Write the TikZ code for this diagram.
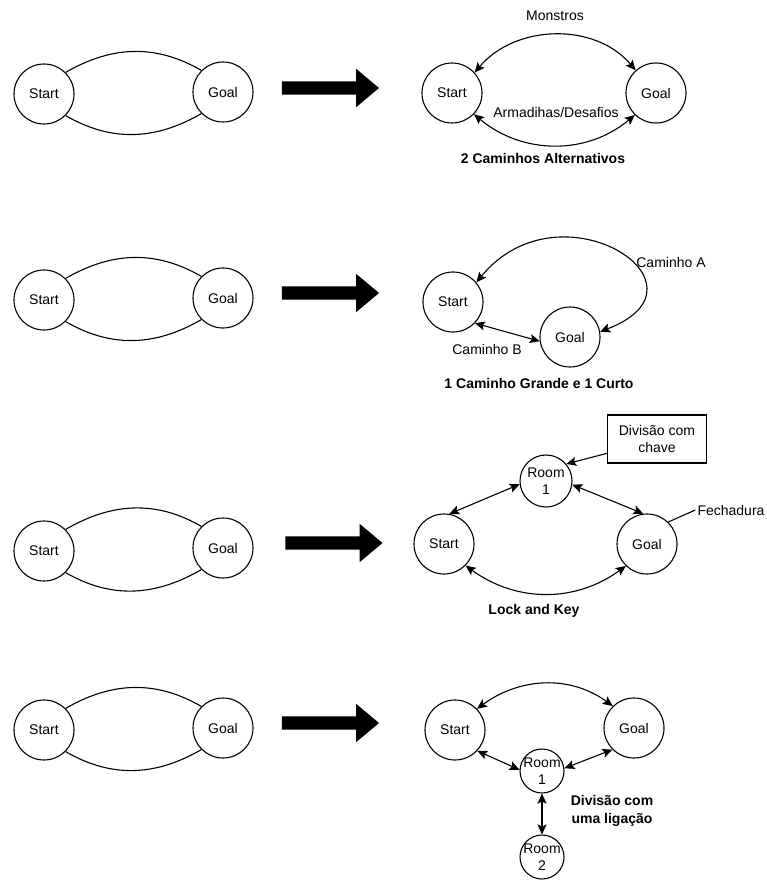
\documentclass[tikz,border=0pt]{standalone}
\usepackage{fontspec}
\setmainfont{Liberation Sans}
\usetikzlibrary{arrows.meta,shapes.arrows}
\begin{document}
\begin{tikzpicture}[x=1pt, y=1pt,
  every node/.style={font=\fontsize{14}{17}\selectfont},
  room/.style={circle, draw, line width=1.1pt, minimum size=60pt, inner sep=0pt},
  smallroom/.style={circle, draw, line width=1.1pt, align=center, inner sep=-5pt},
  note/.style={rectangle, draw, line width=1.1pt, minimum width=99pt, minimum height=48pt,
               align=center, inner sep=0pt},
  title/.style={font=\fontsize{14}{18}\selectfont\bfseries, align=center},
  label/.style={inner sep=2pt},
  bigarr/.style={single arrow, fill=black, draw=none, minimum height=97pt, minimum width=38pt,
                 single arrow head extend=12.5pt, single arrow tip angle=80,
                 inner xsep=0pt, inner ysep=6.5pt},
  plain/.style={line width=1.1pt},
  arr/.style={{Stealth[length=10pt,width=9pt,inset=2pt]}-{Stealth[length=10pt,width=9pt,inset=2pt]}, line width=1.1pt},
  one/.style={-{Stealth[length=10pt,width=9pt,inset=2pt]}, line width=1.1pt},
]
\useasboundingbox (0,0) rectangle (766,-882);
\node[room] (sa1) at (44,-94)  {Start};
\node[room] (ga1) at (223,-92) {Goal};
\draw[plain] (sa1.45) to[out=30,in=150] (ga1.135); \draw[plain] (sa1.-45) to[out=-30,in=-150] (ga1.-135);
\node[bigarr] (ar1) at (326.5,-88) {};
\node[room] (s1) at (452,-93) {Start};
\node[room] (g1) at (656,-93) {Goal};
\draw[arr] (s1.42) to[out=50,in=130] (g1.132); \draw[arr] (s1.-44) to[out=-40,in=-140] (g1.-134);
\node[label] (mo) at (555,-16)  {Monstros};
\node[label] (ad) at (556,-112) {Armadihas/Desafios};
\node[title] (t1) at (543,-158) {2 Caminhos Alternativos};
\node[room] (sa2) at (44,-300)  {Start};
\node[room] (ga2) at (223,-298) {Goal};
\draw[plain] (sa2.45) to[out=30,in=150] (ga2.135); \draw[plain] (sa2.-45) to[out=-30,in=-150] (ga2.-135);
\node[bigarr] (ar2) at (326.5,-293) {};
\node[room] (s2) at (453,-302) {Start};
\node[room] (g2) at (570,-337) {Goal};
\draw[arr] (s2.40) .. controls (560,-180) and (722,-285) .. (g2.10);
\draw[arr] (s2.-44) -- (g2.188);
\node[label] (ca) at (671,-262) {Caminho A};
\node[label] (cb) at (487,-349) {Caminho B};
\node[title] (t2) at (539,-383) {1 Caminho Grande e 1 Curto};
\node[room] (sa3) at (44,-551)  {Start};
\node[room] (ga3) at (223,-548) {Goal};
\draw[plain] (sa3.45) to[out=30,in=150] (ga3.135); \draw[plain] (sa3.-45) to[out=-30,in=-150] (ga3.-135);
\node[bigarr] (ar3) at (330,-543) {};
\node[room] (s3) at (444,-544) {Start};
\node[room] (g3) at (647,-544) {Goal};
\node[smallroom, minimum size=52pt] (r3) at (546,-481) {Room\\1};
\node[note] (bx) at (657,-439) {Divisão com\\chave};
\node[label] (fe) at (731,-510) {Fechadura};
\draw[arr] (s3.80) -- (r3.187); \draw[arr] (r3.-8) -- (g3.97);
\draw[arr] (s3.-45) to[out=-36,in=-144] (g3.-134);
\draw[one] (bx.196) -- (r3.40);
\draw[plain] (g3.46) -- (fe.west);
\node[title] (t3) at (534,-611) {Lock and Key};
\node[room] (sa4) at (44,-730)  {Start};
\node[room] (ga4) at (223,-728) {Goal};
\draw[plain] (sa4.45) to[out=30,in=150] (ga4.135); \draw[plain] (sa4.-45) to[out=-30,in=-150] (ga4.-135);
\node[bigarr] (ar4) at (326.5,-723) {};
\node[room] (s4) at (455,-730) {Start};
\node[room] (g4) at (634,-728) {Goal};
\node[smallroom, minimum size=44pt] (r4a) at (542,-771) {Room\\1};
\node[smallroom, minimum size=44pt] (r4b) at (542,-857) {Room\\2};
\draw[arr] (s4.44) to[out=36,in=144] (g4.134);
\draw[arr] (s4.-43) -- (r4a.177); \draw[arr] (g4.-135) -- (r4a.7);
\draw[arr] (r4a.south) -- (r4b.north);
\node[title] (t4) at (612,-811) {Divisão com\\uma ligação};
\end{tikzpicture}
\end{document}
